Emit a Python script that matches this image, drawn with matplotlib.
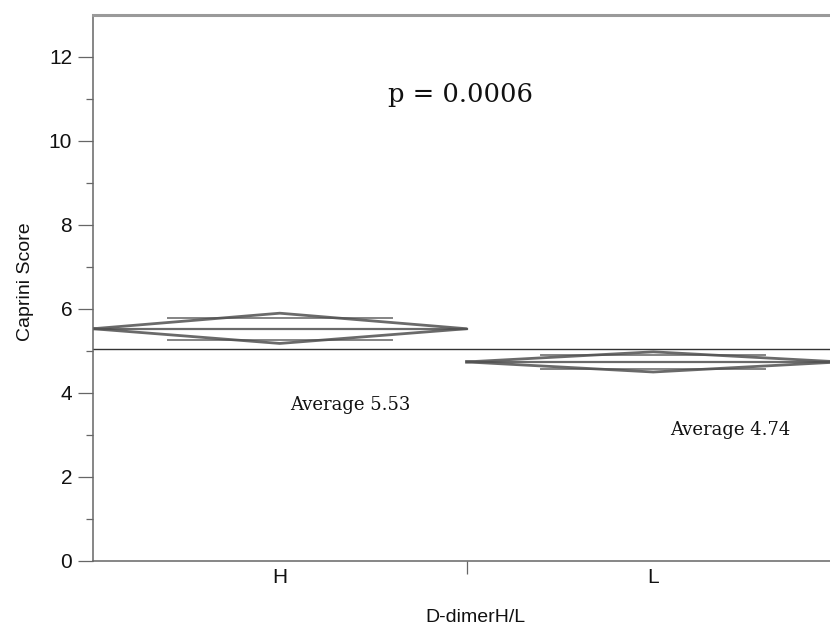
import numpy as np
import matplotlib.pyplot as plt

# group means with 95% confidence limits (mean diamonds)
groups = ['H', 'L']
means = [5.53, 4.74]
ci_lower = [5.18, 4.50]
ci_upper = [5.90, 4.98]
grand_mean = 5.05
p_text = 'p = 0.0006'
avg_labels = ['Average 5.53', 'Average 4.74']

plt.rcParams['font.family'] = ['Liberation Sans', 'DejaVu Sans']

fig = plt.figure(figsize=(8.3, 6.28), dpi=100, facecolor='white')
ax = fig.add_axes([93/830, 67/628, 747/830, 546/628])

line_col = '#505050'
for i, g in enumerate(groups):
    x0, x1 = i, i + 1
    xm = (x0 + x1) / 2
    m, lo, hi = means[i], ci_lower[i], ci_upper[i]
    # diamond outline
    ax.plot([x0, xm, x1, xm, x0], [m, hi, m, lo, m], color=line_col, lw=2.0, alpha=0.85)
    # mean line
    ax.plot([x0, x1], [m, m], color=line_col, lw=1.6, alpha=0.85)
    # overlap marks
    d = (hi - m) / np.sqrt(2)
    for yy in (m + d, m - d):
        ax.plot([x0 + 0.2, x1 - 0.2], [yy, yy], color=line_col, lw=1.4, alpha=0.7)

# grand mean line
ax.axhline(grand_mean, color='#333333', lw=1.0)

ax.set_xlim(0, 2)
ax.set_ylim(0, 13)

ax.set_yticks(np.arange(0, 13, 2))
ax.set_yticks(np.arange(1, 13, 2), minor=True)
ax.tick_params(axis='y', which='major', length=11, width=0.9, color='#666666',
               labelsize=15, labelcolor='#111111', pad=4)
ax.tick_params(axis='y', which='minor', length=5, width=0.9, color='#666666')

# divider tick between groups, labels centred under each group
ax.set_xticks([1])
ax.set_xticklabels([''])
ax.set_xticks([0.5, 1.5], minor=True)
ax.set_xticklabels(groups, minor=True)
ax.tick_params(axis='x', which='minor', length=0, labelsize=15, labelcolor='#111111', pad=5)
ax.tick_params(axis='x', which='major', length=9, width=0.9, color='#666666')

for s in ['left', 'bottom']:
    ax.spines[s].set_color('#666666')
    ax.spines[s].set_linewidth(1.1)
ax.spines['top'].set_color('#9a9a9a')
ax.spines['top'].set_linewidth(2.2)
ax.spines['right'].set_visible(False)

ax.set_ylabel('Caprini Score', fontsize=14, color='#111111', va='center')
ax.yaxis.set_label_coords(-(93 - 25) / 747, (561 - 282) / 546)
ax.set_xlabel('D-dimerH/L', fontsize=14, color='#111111', va='center')
ax.xaxis.set_label_coords((475 - 93) / 747, -(618 - 561) / 546)

serif = ['DejaVu Serif']
ax.text(0.985, 11.1, p_text, family=serif, fontsize=18.5, ha='center', va='center', color='#111111')
ax.text(0.69, 3.71, avg_labels[0], family=serif, fontsize=13, ha='center', va='center', color='#111111')
ax.text(1.705, 3.12, avg_labels[1], family=serif, fontsize=13, ha='center', va='center', color='#111111')

fig.savefig('out.png', dpi=100, facecolor='white')
